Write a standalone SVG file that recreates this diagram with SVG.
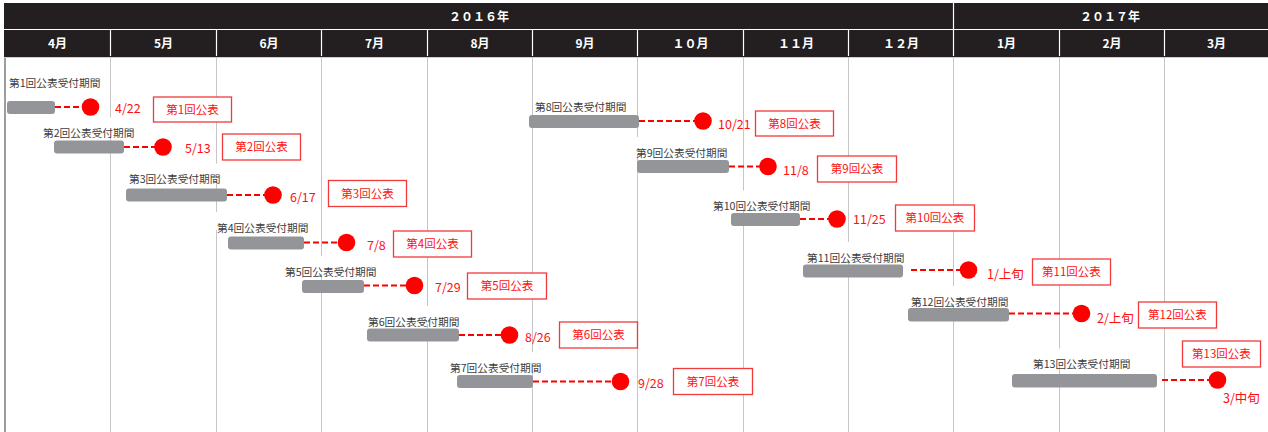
<svg xmlns="http://www.w3.org/2000/svg" width="1268" height="432" viewBox="0 0 1268 432">
<style>
.grid{stroke:#c6c6c6;stroke-width:1}
.hsep{stroke:#ffffff;stroke-width:1.2}
.yr{font-family:"Noto Sans CJK JP",sans-serif;font-size:12px;font-weight:bold;fill:#ffffff;text-anchor:middle}
.mo{font-family:"Noto Sans CJK JP",sans-serif;font-size:12px;font-weight:bold;fill:#ffffff;text-anchor:middle}
.lblbg{fill:#ffffff}
.lbl{font-family:"Noto Sans CJK JP",sans-serif;font-size:10.7px;fill:#3c3c3c}
.bar{fill:#939598}
.dash{stroke:#ff0000;stroke-width:2.2;stroke-dasharray:6 3;fill:none}
.dot{fill:#ff0000}
.date{font-family:"Noto Sans CJK JP",sans-serif;font-size:12.5px;fill:#ff1010}
.box{fill:#ffffff;stroke:#f23a3a;stroke-width:1.3}
.boxt{font-family:"Noto Sans CJK JP",sans-serif;font-size:11.5px;fill:#ff1010;text-anchor:middle}
</style>
<rect x="0" y="0" width="1268" height="432" fill="#ffffff"/>
<g id="gridlines">
<line class="grid" x1="110.5" y1="57" x2="110.5" y2="432"/>
<line class="grid" x1="216.5" y1="57" x2="216.5" y2="432"/>
<line class="grid" x1="321.5" y1="57" x2="321.5" y2="432"/>
<line class="grid" x1="427.5" y1="57" x2="427.5" y2="432"/>
<line class="grid" x1="532.5" y1="57" x2="532.5" y2="432"/>
<line class="grid" x1="637.5" y1="57" x2="637.5" y2="432"/>
<line class="grid" x1="743.5" y1="57" x2="743.5" y2="432"/>
<line class="grid" x1="848.5" y1="57" x2="848.5" y2="432"/>
<line class="grid" x1="953.5" y1="57" x2="953.5" y2="432"/>
<line class="grid" x1="1059.5" y1="57" x2="1059.5" y2="432"/>
<line class="grid" x1="1164.5" y1="57" x2="1164.5" y2="432"/>
<line x1="5" y1="57" x2="5" y2="432" stroke="#3a3a3a" stroke-width="1"/>
<line x1="4" y1="57.5" x2="1268" y2="57.5" stroke="#cfcfcf" stroke-width="1"/>
</g>
<g id="header">
<rect x="4" y="3" width="1264" height="54" fill="#231f20"/>
<line class="hsep" x1="4" y1="29.5" x2="1268" y2="29.5"/>
<line class="hsep" x1="953.5" y1="3" x2="953.5" y2="30"/>
<line class="hsep" x1="110.5" y1="30" x2="110.5" y2="56"/>
<line class="hsep" x1="216.5" y1="30" x2="216.5" y2="56"/>
<line class="hsep" x1="321.5" y1="30" x2="321.5" y2="56"/>
<line class="hsep" x1="427.5" y1="30" x2="427.5" y2="56"/>
<line class="hsep" x1="532.5" y1="30" x2="532.5" y2="56"/>
<line class="hsep" x1="637.5" y1="30" x2="637.5" y2="56"/>
<line class="hsep" x1="743.5" y1="30" x2="743.5" y2="56"/>
<line class="hsep" x1="848.5" y1="30" x2="848.5" y2="56"/>
<line class="hsep" x1="953.5" y1="30" x2="953.5" y2="56"/>
<line class="hsep" x1="1059.5" y1="30" x2="1059.5" y2="56"/>
<line class="hsep" x1="1164.5" y1="30" x2="1164.5" y2="56"/>
<text class="yr" x="479" y="20.5">２０１６年</text>
<text class="yr" x="1110" y="20.5">２０１７年</text>
<text class="mo" x="57.5" y="47.5">4月</text>
<text class="mo" x="163.5" y="47.5">5月</text>
<text class="mo" x="269" y="47.5">6月</text>
<text class="mo" x="374.5" y="47.5">7月</text>
<text class="mo" x="480" y="47.5">8月</text>
<text class="mo" x="585" y="47.5">9月</text>
<text class="mo" x="690.5" y="47.5">１０月</text>
<text class="mo" x="796" y="47.5">１１月</text>
<text class="mo" x="901" y="47.5">１２月</text>
<text class="mo" x="1006.5" y="47.5">1月</text>
<text class="mo" x="1112" y="47.5">2月</text>
<text class="mo" x="1216.5" y="47.5">3月</text>
</g>
<g id="connectors">
<line class="dash" x1="55" y1="107" x2="90" y2="107"/>
<line class="dash" x1="124" y1="147" x2="163" y2="147"/>
<line class="dash" x1="227" y1="195" x2="273" y2="195"/>
<line class="dash" x1="304" y1="242.5" x2="346" y2="242.5"/>
<line class="dash" x1="364" y1="285.5" x2="414" y2="285.5"/>
<line class="dash" x1="459" y1="335" x2="509" y2="335"/>
<line class="dash" x1="533" y1="381.5" x2="620" y2="381.5"/>
<line class="dash" x1="639" y1="121" x2="703" y2="121"/>
<line class="dash" x1="729" y1="166.5" x2="768" y2="166.5"/>
<line class="dash" x1="800" y1="219" x2="837" y2="219"/>
<line class="dash" x1="911" y1="270" x2="968" y2="270"/>
<line class="dash" x1="1009" y1="313.5" x2="1081" y2="313.5"/>
<line class="dash" x1="1162" y1="380" x2="1217" y2="380"/>
</g>
<g id="round1">
<rect class="lblbg" x="7" y="67.5" width="96" height="18"/>
<text class="lbl" x="9" y="87">第1回公表受付期間</text>
<rect class="bar" x="7" y="101" width="48" height="13" rx="3"/>
<circle class="dot" cx="90.5" cy="107" r="8.8"/>
<text class="date" x="115" y="112.5">4/22</text>
<rect class="box" x="153.5" y="97" width="78" height="25"/>
<text class="boxt" x="192.5" y="113.5">第1回公表</text>
</g>
<g id="round2">
<rect class="lblbg" x="41" y="117.5" width="96" height="18"/>
<text class="lbl" x="43" y="137">第2回公表受付期間</text>
<rect class="bar" x="54" y="140.5" width="70" height="13" rx="3"/>
<circle class="dot" cx="163" cy="147" r="8.8"/>
<text class="date" x="185" y="152.5">5/13</text>
<rect class="box" x="222.5" y="134" width="78" height="26"/>
<text class="boxt" x="261.5" y="151">第2回公表</text>
</g>
<g id="round3">
<rect class="lblbg" x="127" y="163.5" width="96" height="18"/>
<text class="lbl" x="129" y="183">第3回公表受付期間</text>
<rect class="bar" x="126" y="188.5" width="101" height="13" rx="3"/>
<circle class="dot" cx="273" cy="195" r="8.8"/>
<text class="date" x="290" y="201.5">6/17</text>
<rect class="box" x="328.5" y="180.5" width="78" height="26"/>
<text class="boxt" x="367.5" y="197.5">第3回公表</text>
</g>
<g id="round4">
<rect class="lblbg" x="215" y="212" width="96" height="18"/>
<text class="lbl" x="217" y="231.5">第4回公表受付期間</text>
<rect class="bar" x="228" y="236.5" width="76" height="13" rx="3"/>
<circle class="dot" cx="346.5" cy="242.5" r="8.8"/>
<text class="date" x="367" y="250">7/8</text>
<rect class="box" x="393.5" y="231" width="78" height="26"/>
<text class="boxt" x="432.5" y="248">第4回公表</text>
</g>
<g id="round5">
<rect class="lblbg" x="283" y="256" width="96" height="18"/>
<text class="lbl" x="285" y="275.5">第5回公表受付期間</text>
<rect class="bar" x="302" y="280" width="62" height="13" rx="3"/>
<circle class="dot" cx="414.5" cy="285.5" r="8.8"/>
<text class="date" x="435" y="291.5">7/29</text>
<rect class="box" x="467.5" y="273" width="79" height="26"/>
<text class="boxt" x="507" y="290">第5回公表</text>
</g>
<g id="round6">
<rect class="lblbg" x="366" y="306" width="96" height="18"/>
<text class="lbl" x="368" y="325.5">第6回公表受付期間</text>
<rect class="bar" x="367" y="328.5" width="92" height="13" rx="3"/>
<circle class="dot" cx="509.5" cy="335" r="8.8"/>
<text class="date" x="525" y="341.5">8/26</text>
<rect class="box" x="559.5" y="322" width="78" height="26"/>
<text class="boxt" x="598.5" y="339">第6回公表</text>
</g>
<g id="round7">
<rect class="lblbg" x="448" y="352" width="96" height="18"/>
<text class="lbl" x="450" y="371.5">第7回公表受付期間</text>
<rect class="bar" x="457" y="375" width="76" height="13" rx="3"/>
<circle class="dot" cx="620.5" cy="381.5" r="8.8"/>
<text class="date" x="638" y="387.5">9/28</text>
<rect class="box" x="673.5" y="368.5" width="79" height="26"/>
<text class="boxt" x="713" y="385.5">第7回公表</text>
</g>
<g id="round8">
<rect class="lblbg" x="533" y="91" width="96" height="18"/>
<text class="lbl" x="535" y="110.5">第8回公表受付期間</text>
<rect class="bar" x="529" y="115" width="110" height="13" rx="3"/>
<circle class="dot" cx="703" cy="121" r="8.8"/>
<text class="date" x="718" y="129">10/21</text>
<rect class="box" x="755.5" y="111" width="78" height="25"/>
<text class="boxt" x="794.5" y="127.5">第8回公表</text>
</g>
<g id="round9">
<rect class="lblbg" x="634" y="137" width="96" height="18"/>
<text class="lbl" x="636" y="156.5">第9回公表受付期間</text>
<rect class="bar" x="637" y="160" width="92" height="13" rx="3"/>
<circle class="dot" cx="768" cy="166.5" r="8.8"/>
<text class="date" x="783" y="175">11/8</text>
<rect class="box" x="817.5" y="156" width="79" height="26"/>
<text class="boxt" x="857" y="173">第9回公表</text>
</g>
<g id="round10">
<rect class="lblbg" x="711" y="190.5" width="102" height="18"/>
<text class="lbl" x="713" y="210">第10回公表受付期間</text>
<rect class="bar" x="731" y="213" width="69" height="13" rx="3"/>
<circle class="dot" cx="837" cy="219" r="8.8"/>
<text class="date" x="853" y="223.5">11/25</text>
<rect class="box" x="895.5" y="205" width="79" height="26"/>
<text class="boxt" x="935" y="222">第10回公表</text>
</g>
<g id="round11">
<rect class="lblbg" x="805" y="242" width="102" height="18"/>
<text class="lbl" x="807" y="261.5">第11回公表受付期間</text>
<rect class="bar" x="803" y="264.5" width="100" height="13" rx="3"/>
<circle class="dot" cx="968.5" cy="270" r="8.8"/>
<text class="date" x="987" y="278.5">1/上旬</text>
<rect class="box" x="1032.5" y="259" width="78" height="26"/>
<text class="boxt" x="1071.5" y="276">第11回公表</text>
</g>
<g id="round12">
<rect class="lblbg" x="909" y="286" width="102" height="18"/>
<text class="lbl" x="911" y="305.5">第12回公表受付期間</text>
<rect class="bar" x="908" y="308" width="101" height="13.5" rx="3"/>
<circle class="dot" cx="1081.5" cy="313.5" r="8.8"/>
<text class="date" x="1097" y="322.5">2/上旬</text>
<rect class="box" x="1138.5" y="302" width="78" height="26"/>
<text class="boxt" x="1177.5" y="319">第12回公表</text>
</g>
<g id="round13">
<rect class="lblbg" x="1031" y="348.5" width="102" height="18"/>
<text class="lbl" x="1033" y="368">第13回公表受付期間</text>
<rect class="bar" x="1012" y="374" width="145" height="13.5" rx="3"/>
<circle class="dot" cx="1217.5" cy="380" r="8.8"/>
<text class="date" x="1223" y="402.5">3/中旬</text>
<rect class="box" x="1182.5" y="341" width="78" height="26"/>
<text class="boxt" x="1221.5" y="358">第13回公表</text>
</g>
</svg>
